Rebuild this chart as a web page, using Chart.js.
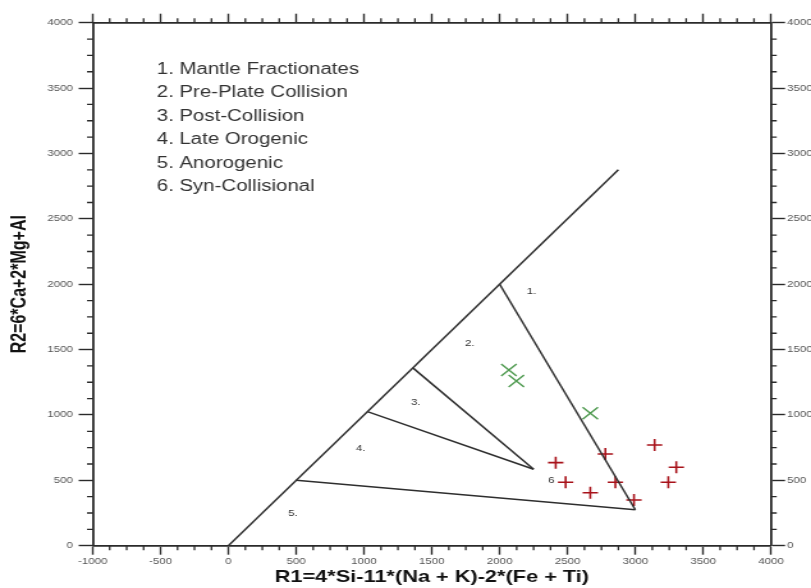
<!DOCTYPE html>
<html>
<head>
<meta charset="utf-8">
<title>R1-R2</title>
<script src="https://cdn.jsdelivr.net/npm/chart.js@4.4.0/dist/chart.umd.min.js"></script>
<style>
    html, body { margin: 0; padding: 0; background: #fff; overflow: hidden; }
    #wrap { width: 634px; height: 588px; transform: scaleX(1.2792); transform-origin: 0 0; }
</style>
</head>
<body>
<div id="wrap"><canvas id="Chart1" width="634" height="588"></canvas></div>
<script>
// field boundaries of the R1-R2 diagram
const boundaries = [
    [{x: 0, y: 0}, {x: 2875, y: 2875}],
    [{x: 2000, y: 2000}, {x: 3000, y: 275}],
    [{x: 500, y: 500}, {x: 3000, y: 275}],
    [{x: 1025, y: 1025}, {x: 2250, y: 585}],
    [{x: 1360, y: 1360}, {x: 2250, y: 585}]
];

const fieldNumbers = ['1.', '2.', '3.', '4.', '5.', '6'];
const fieldLabelX = [2234, 1779, 1381, 976, 477, 2381];
const fieldLabelY = [1943, 1548, 1094, 740, 248, 502];
const fieldNames = ['Mantle Fractionates', 'Pre-Plate Collision', 'Post-Collision',
    'Late Orogenic', 'Anorogenic', 'Syn-Collisional'];

const greenX = [2068, 2123, 2668];
const greenY = [1343, 1260, 1013];
const redX = [2413, 2486, 2668, 2779, 2853, 2990, 3142, 3302, 3243];
const redY = [635, 485, 405, 701, 485, 350, 770, 600, 485];

const xTitle = 'R1=4*Si-11*(Na + K)-2*(Fe + Ti)';
const yTitle = 'R2=6*Ca+2*Mg+Al';
const axisMin = {x: -1000, y: 0};
const axisMax = {x: 4000, y: 4000};
const majorStep = 500;
const minorStep = 125;

const FONT = '"Liberation Sans", Arial, sans-serif';
const INK = '#2a2a2a';

function toPoints(xs, ys) {
    return xs.map((x, i) => ({x: x, y: ys[i]}));
}

// short ticks between the labelled ones, pointing outward on every side
const minorTicks = {
    id: 'minorTicks',
    afterDraw(chart) {
        const ctx = chart.ctx;
        const area = chart.chartArea;
        const len = 4.5;
        ctx.save();
        ctx.strokeStyle = INK;
        ctx.lineWidth = 1.3;
        ctx.beginPath();
        const xs = chart.scales.x;
        for (let v = axisMin.x; v <= axisMax.x; v += minorStep) {
            if (v % majorStep === 0) continue;
            const px = xs.getPixelForValue(v);
            ctx.moveTo(px, area.bottom);
            ctx.lineTo(px, area.bottom + len);
            ctx.moveTo(px, area.top);
            ctx.lineTo(px, area.top - len);
        }
        const ys = chart.scales.y;
        for (let v = axisMin.y; v <= axisMax.y; v += minorStep) {
            if (v % majorStep === 0) continue;
            const py = ys.getPixelForValue(v);
            ctx.moveTo(area.left, py);
            ctx.lineTo(area.left - len, py);
            ctx.moveTo(area.right, py);
            ctx.lineTo(area.right + len, py);
        }
        ctx.stroke();
        ctx.restore();
    }
};

// numbered field labels and the key in the upper left
const fieldText = {
    id: 'fieldText',
    afterDatasetsDraw(chart) {
        const ctx = chart.ctx;
        const xs = chart.scales.x;
        const ys = chart.scales.y;
        ctx.save();
        ctx.fillStyle = '#333';
        ctx.font = '9px ' + FONT;
        ctx.textAlign = 'center';
        ctx.textBaseline = 'middle';
        fieldNumbers.forEach((n, i) => {
            ctx.fillText(n, xs.getPixelForValue(fieldLabelX[i]), ys.getPixelForValue(fieldLabelY[i]));
        });

        ctx.fillStyle = '#333';
        ctx.font = '16px ' + FONT;
        ctx.textAlign = 'left';
        fieldNames.forEach((name, i) => {
            const y = 69.3 + i * 23.5;
            ctx.fillText((i + 1) + '.', 122.5, y);
            ctx.fillText(name, 140.2, y);
        });
        ctx.restore();
    }
};

function plainNumber(value) {
    return String(value);
}

function createDiagram() {
    const datasets = boundaries.map(seg => ({
        data: seg,
        showLine: true,
        borderColor: '#2e2e2e',
        borderWidth: 1.5,
        pointRadius: 0,
        fill: false
    }));

    datasets.push({
        data: toPoints(greenX, greenY),
        pointStyle: 'crossRot',
        pointRadius: 8.5,
        pointBorderWidth: 1.4,
        borderColor: '#4f9a50',
        backgroundColor: '#4f9a50',
        showLine: false
    });
    datasets.push({
        data: toPoints(redX, redY),
        pointStyle: 'cross',
        pointRadius: 6,
        pointBorderWidth: 1.6,
        borderColor: '#a8121a',
        backgroundColor: '#a8121a',
        showLine: false
    });

    const gridOpts = (len) => ({
        drawOnChartArea: false,
        drawTicks: true,
        tickLength: len,
        tickColor: INK,
        tickWidth: 1.4,
        color: INK
    });
    const borderOpts = {display: true, color: INK, width: 1.8};
    const tickFont = {family: FONT, size: 9};

    const ctx = document.getElementById('Chart1').getContext('2d');
    new Chart(ctx, {
        type: 'scatter',
        data: {datasets: datasets},
        options: {
            responsive: false,
            animation: false,
            layout: {padding: 0},
            plugins: {
                legend: {display: false},
                tooltip: {enabled: false}
            },
            scales: {
                x: {
                    type: 'linear',
                    position: 'bottom',
                    min: axisMin.x,
                    max: axisMax.x,
                    ticks: {stepSize: majorStep, autoSkip: false, maxRotation: 0, padding: 1, color: '#555', font: tickFont, callback: plainNumber},
                    grid: gridOpts(9),
                    border: borderOpts,
                    title: {display: true, text: xTitle, color: '#111', padding: 0, font: {family: FONT, size: 17, weight: 'bold'}},
                    afterFit: s => { s.height = 42.3; }
                },
                x2: {
                    type: 'linear',
                    position: 'top',
                    min: axisMin.x,
                    max: axisMax.x,
                    ticks: {display: false, stepSize: majorStep, autoSkip: false},
                    grid: gridOpts(9),
                    border: borderOpts,
                    afterFit: s => { s.height = 22.7; }
                },
                y: {
                    type: 'linear',
                    position: 'left',
                    min: axisMin.y,
                    max: axisMax.y,
                    ticks: {stepSize: majorStep, autoSkip: false, padding: 4.5, color: '#555', font: tickFont, callback: plainNumber},
                    grid: gridOpts(11),
                    border: borderOpts,
                    title: {display: true, text: yTitle, color: '#111', padding: {top: 6, bottom: 0}, font: {family: FONT, size: 16, weight: 'bold'}},
                    afterFit: s => { s.width = 72.5; }
                },
                y2: {
                    type: 'linear',
                    position: 'right',
                    min: axisMin.y,
                    max: axisMax.y,
                    ticks: {stepSize: majorStep, autoSkip: false, padding: 1.5, color: '#555', font: tickFont, callback: plainNumber},
                    grid: gridOpts(11),
                    border: borderOpts,
                    afterFit: s => { s.width = 31.3; }
                }
            }
        },
        plugins: [minorTicks, fieldText]
    });
}

window.onload = function () {
    createDiagram();
};
</script>
</body>
</html>
